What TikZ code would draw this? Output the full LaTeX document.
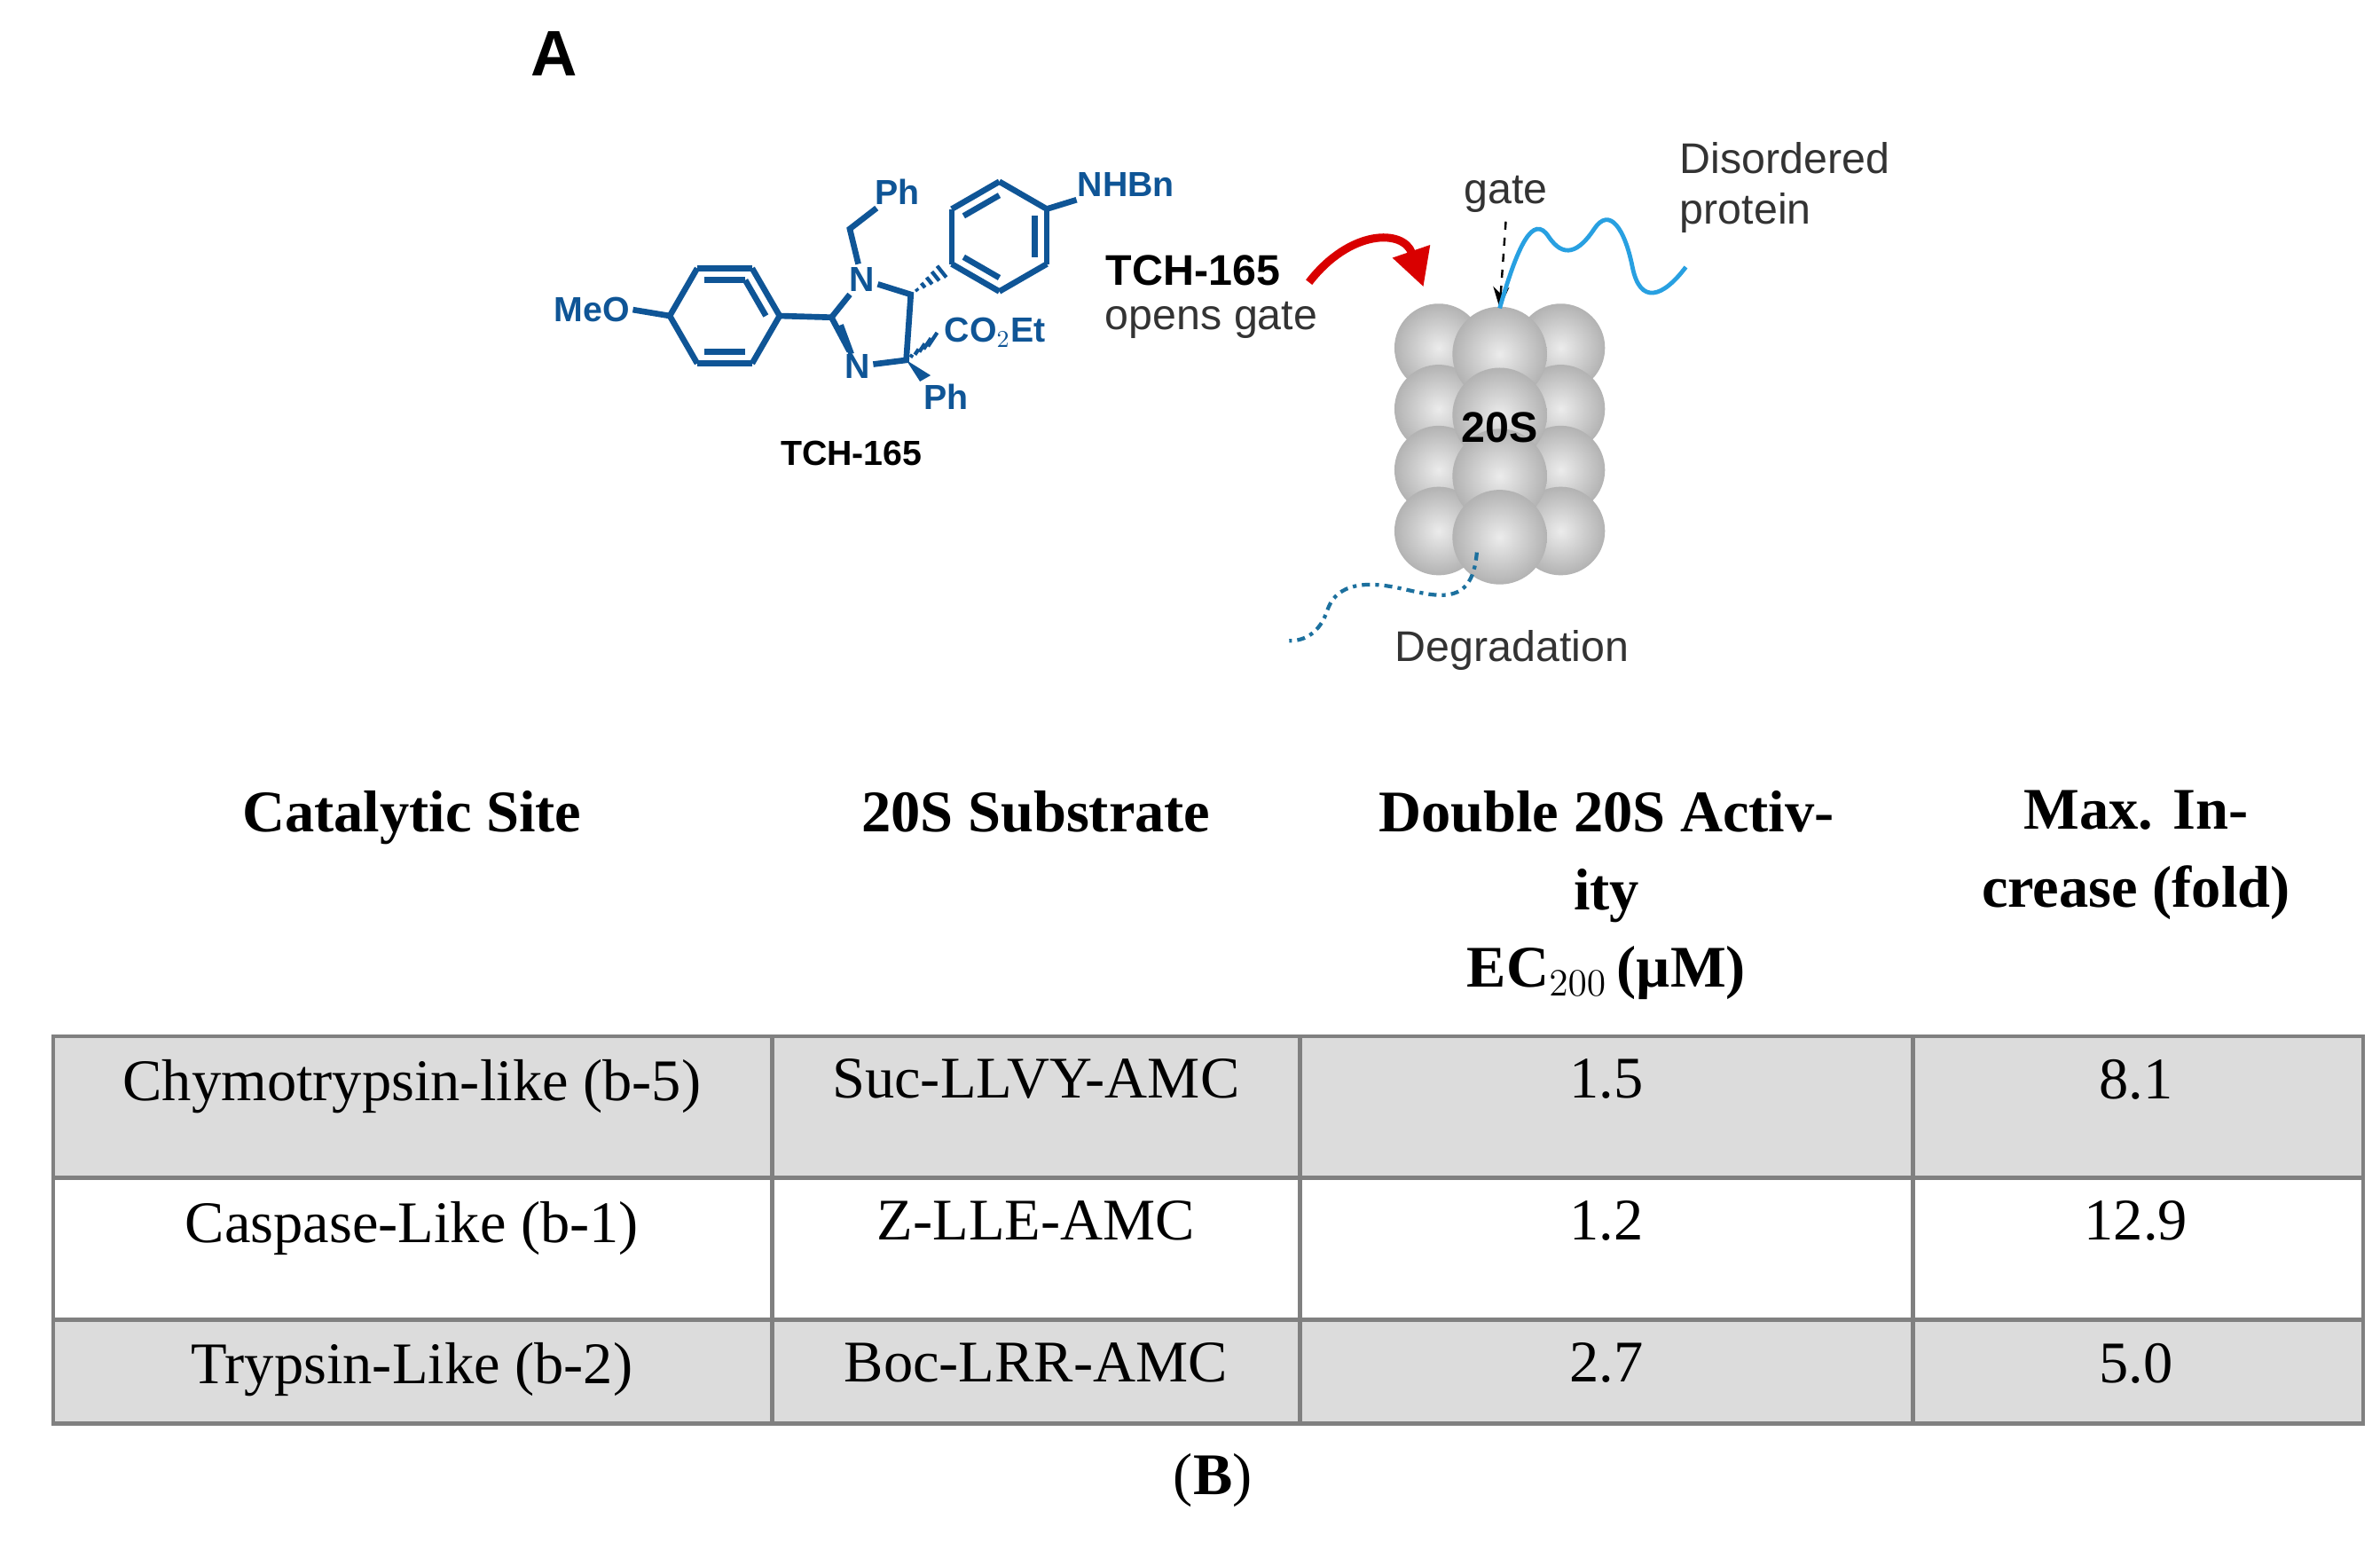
\documentclass[tikz,border=0pt]{standalone}
\usepackage{fontspec}
\setmainfont{Liberation Serif}
\newfontfamily\labelfont{Liberation Sans}
\usepackage{tikz}
\usetikzlibrary{arrows.meta,positioning,calc}
\definecolor{molblue}{RGB}{15,85,150}
\definecolor{cellgray}{RGB}{220,220,220}
\definecolor{protblue}{RGB}{40,160,225}
\begin{document}
\begin{tikzpicture}[x=0.02cm,y=-0.02cm,
    bond/.style={molblue,line width=2.2pt},
    atom/.style={molblue,font=\labelfont\bfseries\fontsize{13}{15}\selectfont,inner sep=1pt,fill=white},
    lbl/.style={font=\labelfont\fontsize{16}{19}\selectfont,text=black!80},
    hdr/.style={font=\fontsize{22}{29}\selectfont\bfseries,align=center,anchor=north},
    cell/.style={font=\fontsize{22}{26}\selectfont,anchor=north},
    ball/.style={inner color=gray!15,outer color=gray!60,draw=none}]
    \useasboundingbox (0,0) rectangle (1560,1010);

    \node[font=\labelfont\bfseries\fontsize{24}{28}\selectfont] (labA) at (363,35) {A};

    %molecule
    \foreach \a in {0,60,...,300}{\draw[bond] (475,207)++(\a:36) -- ++(\a+120:36);}
    \draw[bond] (475,207)++(60:27) -- ++(180:27);
    \draw[bond] (475,207)++(240:27) -- ++(0:27);
    \draw[bond] (475,207)++(300:27) -- ++(60:27);
    \foreach \a in {30,90,...,330}{\draw[bond] (655,155)++(\a:36) -- ++(\a+120:36);}
    \draw[bond] (655,155)++(90:27) -- ++(210:27);
    \draw[bond] (655,155)++(330:27) -- ++(90:27);
    \draw[bond] (655,155)++(210:27) -- ++(330:27);
    \node[atom] (meo) at (388,203) {MeO};
    \node[atom] (n1) at (565,183) {N};
    \node[atom] (n3) at (562,240) {N};
    \coordinate (c2) at (545,208);
    \coordinate (c5) at (597,193);
    \coordinate (c4) at (594,236);
    \draw[bond] (meo.east) -- (439,207);
    \draw[bond] (511,207) -- (c2);
    \draw[bond] (c2) -- (n1);
    \draw[bond] (c2) -- (n3) (551,213) -- (558,232);
    \draw[bond] (n1) -- (c5) -- (c4) -- (n3);
    \node[atom] (ph1) at (588,126) {Ph};
    \draw[bond] (n1) -- (557,150) -- (ph1);
    \node[atom] (nhbn) at (738,121) {NHBn};
    \draw[bond] (686,137) -- (nhbn);
    \foreach \t in {0.15,0.3,...,0.9}{\draw[molblue,line width=1.4pt] ($(c5)!\t!(624,173)$) ++(-4*\t,-5*\t) -- ++(8*\t,10*\t);}
    \node[atom,anchor=west] (co2et) at (617,218) {CO$_2$Et};
    \foreach \t in {0.15,0.3,...,0.9}{\draw[molblue,line width=1.4pt] ($(c4)!\t!(co2et.west)$) ++(-4*\t,6*\t) -- ++(8*\t,-12*\t);}
    \node[atom] (ph2) at (620,260) {Ph};
    \fill[molblue] (c4) -- (603,250) -- (610,246) -- cycle;
    \node[atom,text=black] (tchmol) at (558,297) {TCH-165};

    %proteasome
    \foreach \r in {0,1,2,3}{\foreach \c in {-1,1}{\shade[ball] (983+\c*40,228+\r*40) circle (29);}}
    \foreach \r in {0,1,2,3}{\shade[ball] (983,232+\r*40) circle (31);}
    \node[font=\labelfont\bfseries\fontsize{16}{19}\selectfont] (core) at (983,280) {20S};
    \coordinate (top) at (983,202);
    \coordinate (bottom) at (968,362);
    \node[lbl] (gate) at (987,127) {gate};
    \draw[dashed,thick,-{Stealth[length=8pt]}] (gate.south) -- (top);
    \node[font=\labelfont\bfseries\fontsize{16}{19}\selectfont] (tch) at (782,177) {TCH-165};
    \node[lbl] (opens) at (794,210) {opens gate};
    \coordinate (arrowstart) at (858,185);
    \draw[red!85!black,line width=3pt,-{Triangle[length=14pt,width=14pt]}] (arrowstart) .. controls (885,150) and (920,150) .. (933,188);
    \node[lbl,align=left,anchor=west] (disord) at (1095,123) {Disordered\\protein};
    \draw[protblue,line width=1.6pt] (top) .. controls (995,160) and (1005,140) .. (1015,155) .. controls (1025,170) and (1035,165) .. (1045,150) .. controls (1055,135) and (1065,150) .. (1070,175) .. controls (1075,200) and (1090,195) .. (1105,175);
    \draw[protblue!70!black,line width=1.4pt,dash dot] (bottom) .. controls (965,400) and (940,390) .. (915,385) .. controls (890,380) and (875,385) .. (870,400) .. controls (865,415) and (855,420) .. (845,420);
    \node[lbl] (degr) at (991,426) {Degradation};

    %table
    \fill[cellgray] (35,679) rectangle (1549,772);
    \fill[cellgray] (35,865) rectangle (1549,933);
    \draw[gray,line width=1.5pt] (35,679) rectangle (1549,933);
    \draw[gray,line width=1.5pt] (35,772) -- (1549,772) (35,865) -- (1549,865);
    \foreach \x in {506,852,1254}{\draw[gray,line width=1.5pt] (\x,679) -- (\x,933);}
    \node[hdr] (h1) at (270,512) {Catalytic Site};
    \node[hdr] (h2) at (679,512) {20S Substrate};
    \node[hdr] (h3) at (1053,512) {Double 20S Activ-\\ity\\EC$_{200}$\,(\textmu M)};
    \node[hdr] (h4) at (1400,512) {Max. In-\\crease (fold)};
    \foreach \y/\a/\b/\c/\d in {688/Chymotrypsin-like (b-5)/Suc-LLVY-AMC/1.5/8.1,
        781/Caspase-Like (b-1)/Z-LLE-AMC/1.2/12.9,
        874/Trypsin-Like (b-2)/Boc-LRR-AMC/2.7/5.0}{
      \node[cell] at (270,\y) {\a};
      \node[cell] at (679,\y) {\b};
      \node[cell] at (1053,\y) {\c};
      \node[cell] at (1400,\y) {\d};
    }
    \node[font=\fontsize{22}{26}\selectfont] (capB) at (795,970) {(\textbf{B})};
\end{tikzpicture}
\end{document}
